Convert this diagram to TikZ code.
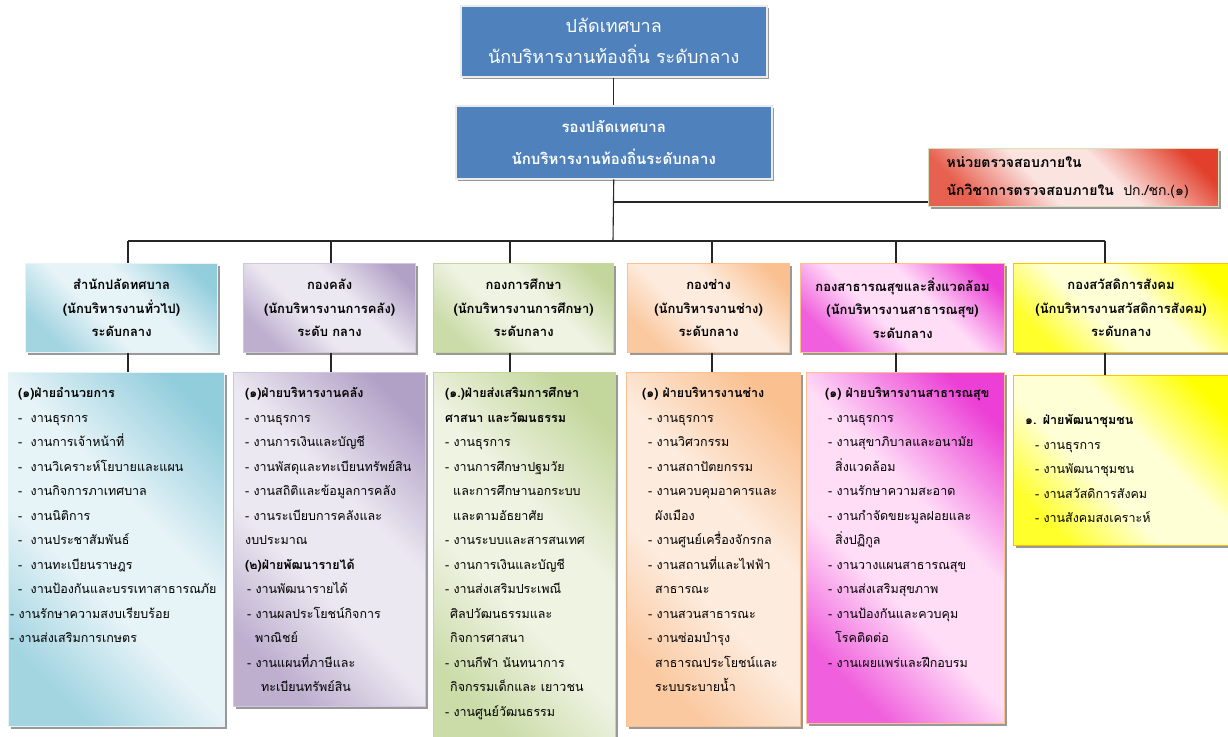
\documentclass[tikz,border=0pt]{standalone}
\usepackage{fontspec}
\setmainfont[Script=Thai]{Loma}
\usetikzlibrary{shadows}

\definecolor{chiefblue}{HTML}{4F81BD}
\definecolor{auditred}{HTML}{E2402C}
\definecolor{auditpale}{HTML}{FBE3E0}
\definecolor{cyanbox}{HTML}{92CDDC}
\definecolor{cyanpale}{HTML}{E6F3F7}
\definecolor{purplebox}{HTML}{B2A1C7}
\definecolor{purplepale}{HTML}{ECE8F1}
\definecolor{greenbox}{HTML}{C3D69B}
\definecolor{greenpale}{HTML}{EEF3E2}
\definecolor{orangebox}{HTML}{FAC090}
\definecolor{orangepale}{HTML}{FDEBDD}
\definecolor{pinkbox}{HTML}{EC3FD6}
\definecolor{pinkpale}{HTML}{FFDDF7}
\definecolor{yellowbox}{HTML}{FFFF00}
\definecolor{yellowpale}{HTML}{FFFFD5}
\definecolor{goldline}{HTML}{FFC000}

% colour in two opposite corners, pale band between them
\colorlet{edgecol}{red}
\colorlet{midcol}{white}
\pgfdeclareverticalshading[edgecol,midcol]{corners}{100bp}{color(0bp)=(edgecol!80!midcol);
  color(25bp)=(edgecol!80!midcol); color(42bp)=(midcol); color(58bp)=(midcol);
  color(78bp)=(edgecol); color(100bp)=(edgecol)}

\begin{document}
\begin{tikzpicture}[x=1pt,y=-1pt,
  box/.style={rectangle, anchor=north west, inner sep=0pt, line width=1.2pt,
    general shadow={fill=black!40, shadow xshift=2.5pt, shadow yshift=-2.5pt}},
  tint/.style 2 args={/utils/exec={\colorlet{edgecol}{#1}\colorlet{midcol}{#2}},
    shade, shading=corners, shading angle=-45},
  chief/.style={box, fill=chiefblue, draw=black!8, line width=1.5pt, text=white, align=center},
  unit/.style={box, align=center, font=\bfseries\fontsize{13}{23.5}\selectfont},
  list/.style={anchor=base west, inner sep=0pt, text width=260pt, align=left,
    font=\fontsize{12.5}{24.5}\selectfont},
  link/.style={line width=1.1pt, black!85}]

\path[use as bounding box, fill=white] (0,0) rectangle (1228,736);

% top of the chart
\node[chief, minimum width=306pt, minimum height=71pt, font=\fontsize{18}{31}\selectfont] (chief) at (460,5)
  {ปลัดเทศบาล\\นักบริหารงานท้องถิ่น ระดับกลาง};
\node[chief, minimum width=316pt, minimum height=73pt, font=\bfseries\fontsize{15}{32}\selectfont] (deputy) at (455,105)
  {รองปลัดเทศบาล\\นักบริหารงานท้องถิ่นระดับกลาง};
\node[box, tint={auditred}{auditpale}, draw=greenbox!70, minimum width=290pt, minimum height=58pt,
  inner xsep=18pt, text width=254pt, align=left, font=\fontsize{14}{28}\selectfont] (audit) at (928,148)
  {\textbf{หน่วยตรวจสอบภายใน}\\\textbf{นักวิชาการตรวจสอบภายใน}\ \ ปก./ชก.(๑)};

% divisions
\node[unit, tint={cyanbox}{cyanpale}, draw=cyanpale, minimum width=192pt, minimum height=89pt] (h1) at (25,263)
  {สำนักปลัดทศบาล\\(นักบริหารงานทั่วไป)\\ระดับกลาง};
\node[unit, tint={purplebox}{purplepale}, draw=purplebox!60, minimum width=172pt, minimum height=89pt] (h2) at (243,263)
  {กองคลัง\\(นักบริหารงานการคลัง)\\ระดับ กลาง};
\node[unit, tint={greenbox}{greenpale}, draw=greenbox, minimum width=180pt, minimum height=89pt] (h3) at (433,263)
  {กองการศึกษา\\(นักบริหารงานการศึกษา)\\ระดับกลาง};
\node[unit, tint={orangebox}{orangepale}, draw=orangebox, minimum width=162pt, minimum height=89pt] (h4) at (627,263)
  {กองช่าง\\(นักบริหารงานช่าง)\\ระดับกลาง};
\node[unit, tint={pinkbox}{pinkpale}, draw=orangebox, minimum width=204pt, minimum height=89pt] (h5) at (800,263)
  {กองสาธารณสุขและสิ่งแวดล้อม\\(นักบริหารงานสาธารณสุข)\\ระดับกลาง};
\node[unit, tint={yellowbox}{yellowpale}, draw=goldline, minimum width=215pt, minimum height=89pt] (h6) at (1013,263)
  {กองสวัสดิการสังคม\\(นักบริหารงานสวัสดิการสังคม)\\ระดับกลาง};

% sections
\node[box, tint={cyanbox}{cyanpale}, draw=cyanpale, minimum width=216pt, minimum height=354pt] (c1) at (8,372) {};
\node[box, tint={purplebox}{purplepale}, draw=purplebox!60, minimum width=192pt, minimum height=334pt] (c2) at (233,372) {};
\node[box, tint={greenbox}{greenpale}, draw=greenbox, minimum width=182pt, minimum height=370pt] (c3) at (433,372) {};
\node[box, tint={orangebox}{orangepale}, draw=orangebox, minimum width=174pt, minimum height=354pt] (c4) at (626,372) {};
\node[box, tint={pinkbox}{pinkpale}, draw=orangebox, minimum width=198pt, minimum height=351pt] (c5) at (806,372) {};
\node[box, tint={yellowbox}{yellowpale}, draw=goldline, minimum width=215pt, minimum height=170pt] (c6) at (1013,375) {};

\node[list] (t1) at (18,397.5) {\textbf{(๑)ฝ่ายอำนวยการ}\\
  -\ \ งานธุรการ\\
  -\ \ งานการเจ้าหน้าที่\\
  -\ \ งานวิเคราะห์โยบายและแผน\\
  -\ \ งานกิจการภาเทศบาล\\
  -\ \ งานนิติการ\\
  -\ \ งานประชาสัมพันธ์\\
  -\ \ งานทะเบียนราษฎร\\
  -\ \ งานป้องกันและบรรเทาสาธารณภัย\\
  \hspace*{-8pt}- งานรักษาความสงบเรียบร้อย\\
  \hspace*{-8pt}- งานส่งเสริมการเกษตร};
\node[list] (t2) at (245,397.5) {\textbf{(๑)ฝ่ายบริหารงานคลัง}\\
  - งานธุรการ\\
  - งานการเงินและบัญชี\\
  - งานพัสดุและทะเบียนทรัพย์สิน\\
  - งานสถิติและข้อมูลการคลัง\\
  - งานระเบียบการคลังและ\\
  งบประมาณ\\
  \textbf{(๒)ฝ่ายพัฒนารายได้}\\
  \hspace*{2pt}- งานพัฒนารายได้\\
  \hspace*{2pt}- งานผลประโยชน์กิจการ\\
  \hspace*{10pt}พาณิชย์\\
  \hspace*{2pt}- งานแผนที่ภาษีและ\\
  \hspace*{16pt}ทะเบียนทรัพย์สิน};
\node[list] (t3) at (445,397.5) {\textbf{(๑.)ฝ่ายส่งเสริมการศึกษา}\\
  \textbf{ศาสนา และวัฒนธรรม}\\
  - งานธุรการ\\
  - งานการศึกษาปฐมวัย\\
  \hspace*{8pt}และการศึกษานอกระบบ\\
  \hspace*{8pt}และตามอัธยาศัย\\
  - งานระบบและสารสนเทศ\\
  - งานการเงินและบัญชี\\
  - งานส่งเสริมประเพณี\\
  \hspace*{5pt}ศิลปวัฒนธรรมและ\\
  \hspace*{5pt}กิจการศาสนา\\
  - งานกีฬา นันทนาการ\\
  \hspace*{5pt}กิจกรรมเด็กและ เยาวชน\\
  - งานศูนย์วัฒนธรรม};
\node[list] (t4) at (642,397.5) {\textbf{(๑) ฝ่ายบริหารงานช่าง}\\
  \hspace*{6pt}- งานธุรการ\\
  \hspace*{6pt}- งานวิศวกรรม\\
  \hspace*{6pt}- งานสถาปัตยกรรม\\
  \hspace*{6pt}- งานควบคุมอาคารและ\\
  \hspace*{13pt}ผังเมือง\\
  \hspace*{6pt}- งานศูนย์เครื่องจักรกล\\
  \hspace*{6pt}- งานสถานที่และไฟฟ้า\\
  \hspace*{13pt}สาธารณะ\\
  \hspace*{6pt}- งานสวนสาธารณะ\\
  \hspace*{6pt}- งานซ่อมบำรุง\\
  \hspace*{13pt}สาธารณประโยชน์และ\\
  \hspace*{13pt}ระบบระบายน้ำ};
\node[list] (t5) at (825,397.5) {\textbf{(๑) ฝ่ายบริหารงานสาธารณสุข}\\
  \hspace*{3pt}- งานธุรการ\\
  \hspace*{3pt}- งานสุขาภิบาลและอนามัย\\
  \hspace*{10pt}สิ่งแวดล้อม\\
  \hspace*{3pt}- งานรักษาความสะอาด\\
  \hspace*{3pt}- งานกำจัดขยะมูลฝอยและ\\
  \hspace*{10pt}สิ่งปฏิกูล\\
  \hspace*{3pt}- งานวางแผนสาธารณสุข\\
  \hspace*{3pt}- งานส่งเสริมสุขภาพ\\
  \hspace*{3pt}- งานป้องกันและควบคุม\\
  \hspace*{10pt}โรคติดต่อ\\
  \hspace*{3pt}- งานเผยแพร่และฝึกอบรม};
\node[list] (t6) at (1025,424.5) {\textbf{๑. ฝ่ายพัฒนาชุมชน}\\
  \hspace*{10pt}- งานธุรการ\\
  \hspace*{10pt}- งานพัฒนาชุมชน\\
  \hspace*{10pt}- งานสวัสดิการสังคม\\
  \hspace*{10pt}- งานสังคมสงเคราะห์};

% connectors
\coordinate (tap) at (613,202);
\coordinate (hub) at (613,241);
\foreach \i/\x in {1/128,2/331,3/510,4/712,5/896,6/1105}
  \coordinate (b\i) at (\x,241);

\draw[link] (chief.south) -- (deputy.north);
\draw[link] (deputy.south) -- (hub);
\draw[link] (tap) -- (tap -| audit.west);
\draw[link] (b1) -- (b6);
\foreach \i in {1,...,6}
  \draw[link] (b\i) -- (b\i |- h\i.north) (b\i |- h\i.south) -- (b\i |- c\i.north);

\end{tikzpicture}
\end{document}
